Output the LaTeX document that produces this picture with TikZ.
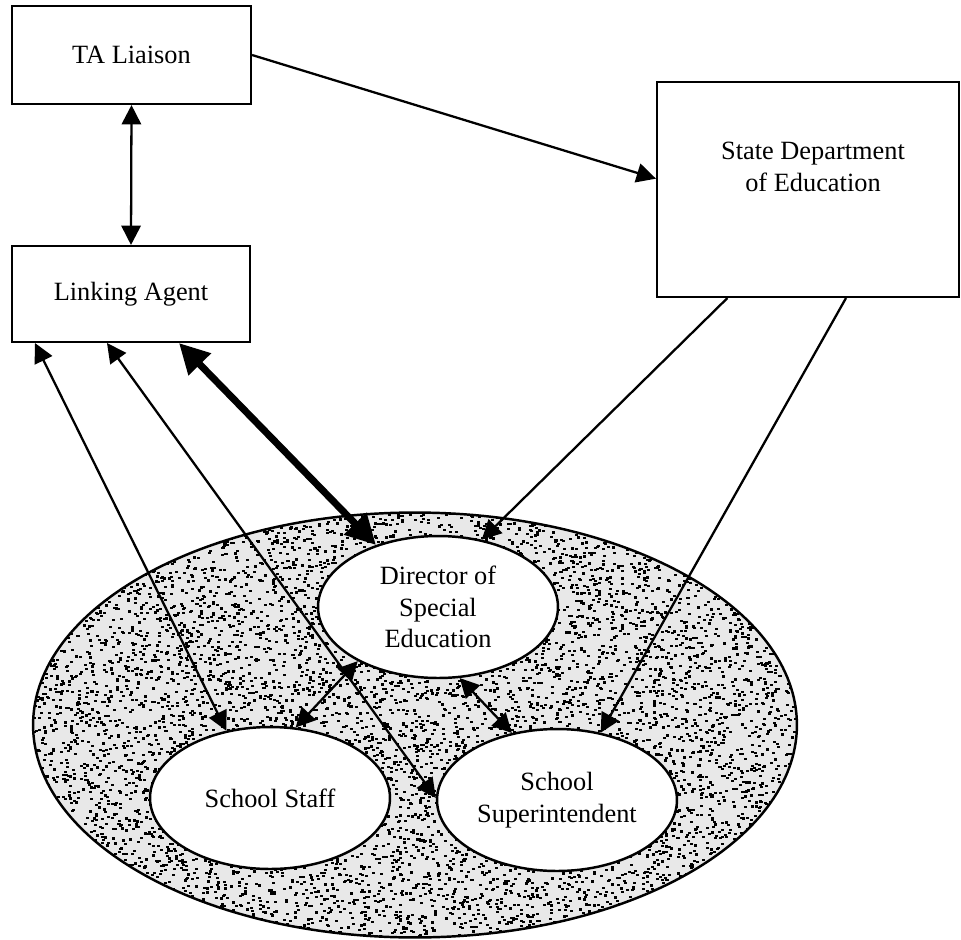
\documentclass[tikz,border=0pt]{standalone}
\usepackage{fontspec}
\setmainfont{Liberation Serif}
\usetikzlibrary{arrows.meta,shapes.geometric,calc}

\tikzset{
  box/.style={draw, line width=1.2pt, inner sep=0pt},
  unit/.style={ellipse, draw, fill=white, line width=1.4pt, minimum width=4.8cm, minimum height=2.84cm, inner sep=0pt, align=center},
  flow/.style={line width=1.3pt, -{Triangle[length=11pt,width=11pt]}},
  mutual/.style={line width=1.3pt, {Triangle[length=11pt,width=11pt]}-{Triangle[length=11pt,width=11pt]}},
  strong/.style={line width=4pt, {Triangle[length=17pt,width=17pt]}-{Triangle[length=17pt,width=17pt]}}
}

\begin{document}
\begin{tikzpicture}[x=0.02cm, y=-0.02cm, font=\fontsize{15}{18}\selectfont]
    \useasboundingbox (0,0) rectangle (961,940);

    % Boxes on top
    \node[box, minimum width=4.78cm, minimum height=1.96cm] (ta) at (131.5,55) {TA Liaison};
    \node[box, minimum width=4.76cm, minimum height=1.92cm] (agent) at (131,294) {Linking Agent};
    \node[box, minimum width=6.04cm, minimum height=4.3cm] (state) at (808,189.5) {};
    \node[align=center] (statetext) at (813,167) {State Department\\of Education};

    % District: speckled ellipse
    \node[ellipse, fill=gray!18, minimum width=15.28cm, minimum height=8.5cm] (district) at (415,725) {};
    \begin{scope}
        \clip (district.center) ellipse [x radius=7.64cm, y radius=4.25cm];
        \pgfmathsetseed{42}
        \foreach \i in {1,...,9000} {
            \fill (rnd*770+30, rnd*430+510) rectangle ++(3,2.2);
        }
    \end{scope}
    \draw[line width=1.4pt] (district.center) ellipse [x radius=7.64cm, y radius=4.25cm];

    % Roles inside the district
    \node[unit] (dir) at (438,607) {Director of\\Special\\Education};
    \node[unit] (staff) at (270,798) {School Staff};
    \node[unit] (super) at (557,800) {School\\Superintendent};

    % Connections
    \draw[flow] (ta.east) -- ($(state.north west)!0.45!(state.south west)$);
    \draw[mutual] (ta.south) -- (agent.north);
    \draw[mutual] ($(agent.south west)!0.1!(agent.south east)$) -- (staff.123);
    \draw[mutual] ($(agent.south west)!0.4!(agent.south east)$) -- (super.179);
    \draw[strong] ($(agent.south west)!0.7!(agent.south east)$) -- (dir.135);
    \draw[flow] ($(state.south west)!0.235!(state.south east)$) -- (dir.57);
    \draw[flow] ($(state.south west)!0.625!(state.south east)$) -- (super.57);
    \draw[mutual] (dir.214) -- (staff.70);
    \draw[mutual] (dir.287) -- (super.124);
\end{tikzpicture}
\end{document}
